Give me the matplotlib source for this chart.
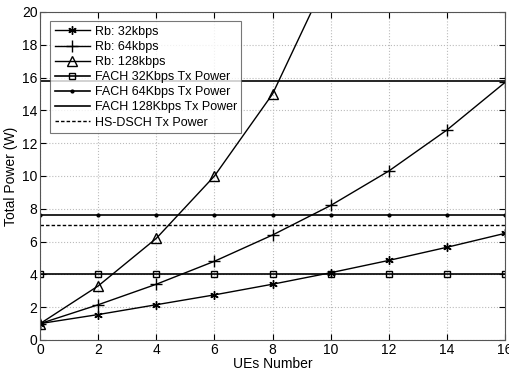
import matplotlib
matplotlib.use("Agg")
from matplotlib import pyplot as plt
import numpy as np

plt.rcParams['font.family'] = ['Liberation Sans', 'DejaVu Sans']

# data
ues = [0, 2, 4, 6, 8, 10, 12, 14, 16]
rb_32 = [1.0, 1.55, 2.15, 2.75, 3.4, 4.1, 4.85, 5.65, 6.5]
rb_64 = [1.0, 2.15, 3.4, 4.8, 6.4, 8.2, 10.3, 12.8, 15.7]
ues_128 = [0, 2, 4, 6, 8, 10]
rb_128 = [1.0, 3.3, 6.2, 10.0, 15.0, 22.5]
fach_32 = 4.0
fach_64 = 7.6
fach_128 = 15.8
hsdsch = 7.0

fig = plt.figure(figsize=(5.09, 3.74), dpi=100)
ax = fig.add_axes([0.079, 0.091, 0.913, 0.877])

ax.plot(ues, rb_32, '-', color='k', lw=1, marker=(6, 2, 0), ms=6, mew=1,
        label='Rb: 32kbps')
ax.plot(ues, rb_64, '-', color='k', lw=1, marker='+', ms=8, mew=1,
        label='Rb: 64kbps')
ax.plot(ues_128, rb_128, '-', color='k', lw=1, marker='^', ms=7, mew=1,
        mfc='none', label='Rb: 128kbps')
ax.plot(ues, [fach_32] * len(ues), '-', color='k', lw=1.2, marker='s', ms=4,
        mfc='none', label='FACH 32Kbps Tx Power')
ax.plot(ues, [fach_64] * len(ues), '-', color='k', lw=1.2, marker='.', ms=4,
        label='FACH 64Kbps Tx Power')
ax.plot(ues, [fach_128] * len(ues), '-', color='k', lw=1.2,
        label='FACH 128Kbps Tx Power')
ax.plot(ues, [hsdsch] * len(ues), '--', color='k', lw=1, dashes=(2.5, 1.5),
        label='HS-DSCH Tx Power')

ax.set_xlim(0, 16)
ax.set_ylim(0, 20)
ax.set_xticks(np.arange(0, 17, 2))
ax.set_yticks(np.arange(0, 21, 2))
ax.grid(True, linestyle=':', color='#bbbbbb', lw=0.8)
ax.tick_params(direction='in', labelsize=10, length=4, top=True, right=True,
               pad=2)
for s in ax.spines.values():
    s.set_color('#555555')

ax.set_xlabel('UEs Number', fontsize=10, labelpad=0)
ax.set_ylabel('Total Power (W)', fontsize=10, labelpad=3)

leg = ax.legend(loc='upper left', fontsize=9, frameon=True, fancybox=False,
                edgecolor='#555555', handlelength=2.8, borderpad=0.35,
                labelspacing=0.25, handletextpad=0.4,
                bbox_to_anchor=(0.008, 0.99))
leg.get_frame().set_linewidth(0.8)

fig.savefig('out.png', dpi=100)
